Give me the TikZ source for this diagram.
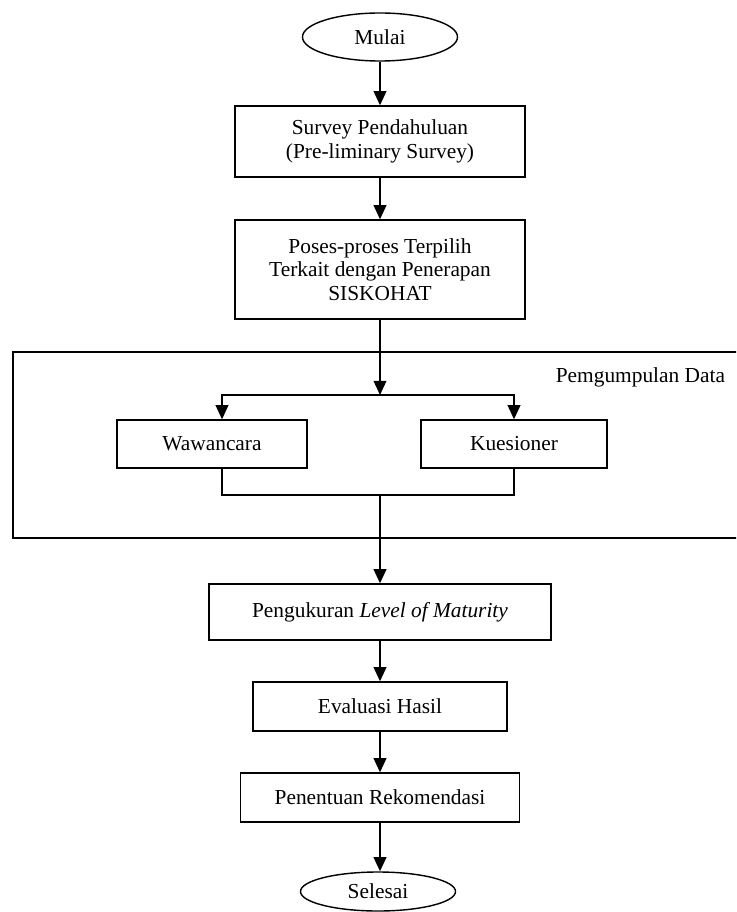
\documentclass[tikz,border=0pt]{standalone}
\usepackage{fontspec}
\setmainfont{Liberation Serif}
\usetikzlibrary{arrows.meta, shapes.geometric, positioning, calc}
\tikzset{
  kotak/.style={draw=black, line width=1pt, rectangle, align=center, inner sep=0pt},
  elips/.style={draw=black, line width=1pt, ellipse, inner sep=0pt},
  panah/.style={line width=1.2pt, -{Triangle[length=10pt, width=9pt]}},
  garis/.style={line width=1.2pt}
}

\begin{document}
\begin{tikzpicture}[x=0.025cm, y=-0.025cm, font=\fontsize{15.2}{16.7}\selectfont]
  \useasboundingbox (0,0) rectangle (736,912);
  \clip (0,0) rectangle (736,912);

  % Awal
  \node[elips, minimum width=3.875cm, minimum height=1.2cm] (mulai) at (380,37) {Mulai};

  % Survey dan proses terpilih
  \node[kotak, minimum width=7.25cm, minimum height=1.775cm] (survey) at (380,141.5) {Survey Pendahuluan\\(Pre-liminary Survey)};
  \node[kotak, minimum width=7.25cm, minimum height=2.475cm] (proses) at (380,269.5) {Poses-proses Terpilih\\Terkait dengan Penerapan\\SISKOHAT};

  % Kotak pengumpulan data
  \draw[line width=1pt] (13,352) rectangle (760,538);
  \node[anchor=base east] (judul) at (730,382) {Pemgumpulan Data};
  \node[kotak, minimum width=4.75cm, minimum height=1.2cm] (wawancara) at (212,444) {Wawancara};
  \node[kotak, minimum width=4.65cm, minimum height=1.2cm] (kuesioner) at (514,444) {Kuesioner};
  \coordinate (cabang) at (380,395);
  \coordinate (gabung) at (380,495);

  % Analisis dan akhir
  \node[kotak, minimum width=8.55cm, minimum height=1.4cm] (ukur) at (380,612) {Pengukuran \textit{Level of Maturity}};
  \node[kotak, minimum width=6.35cm, minimum height=1.225cm] (evaluasi) at (380,706.5) {Evaluasi Hasil};
  \node[kotak, minimum width=6.975cm, minimum height=1.225cm] (rekomendasi) at (380,797.5) {Penentuan Rekomendasi};
  \node[elips, minimum width=3.875cm, minimum height=0.975cm] (selesai) at (378,891.5) {Selesai};

  % Panah
  \draw[panah] (mulai) -- (survey);
  \draw[panah] (survey) -- (proses);
  \draw[panah] (proses) -- (cabang);
  \draw[panah] (cabang) -| ([xshift=0.25cm]wawancara.north);
  \draw[panah] (cabang) -| (kuesioner.north);
  \draw[garis] ([xshift=0.25cm]wawancara.south) |- (gabung) -| (kuesioner.south);
  \draw[panah] (gabung) -- (ukur);
  \draw[panah] (ukur) -- (evaluasi);
  \draw[panah] (evaluasi) -- (rekomendasi);
  \draw[panah] (rekomendasi) -- (rekomendasi |- selesai.north);
\end{tikzpicture}
\end{document}
